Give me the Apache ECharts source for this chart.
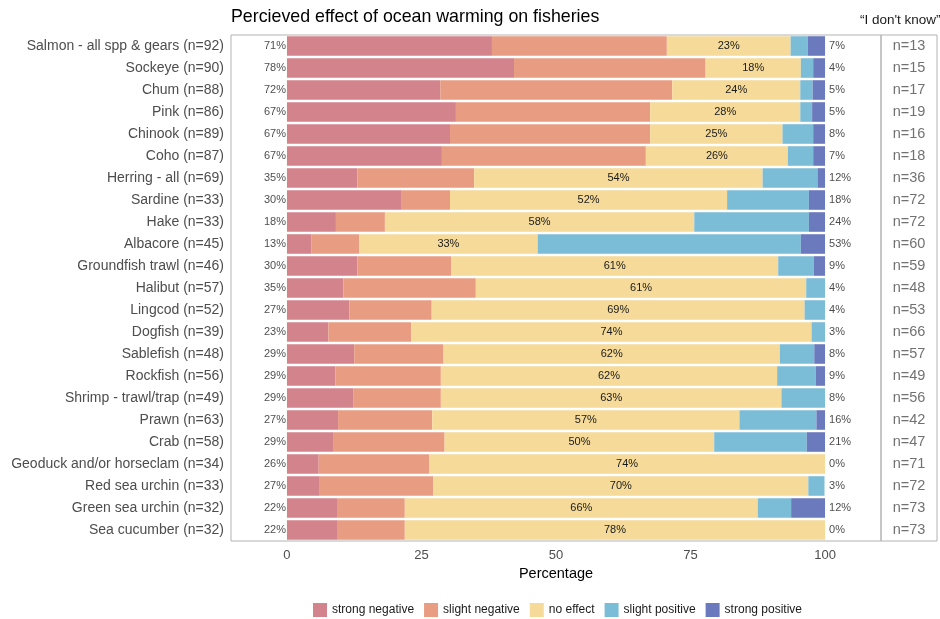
<!DOCTYPE html>
<html>
<head>
<meta charset="utf-8">
<script src="https://cdn.jsdelivr.net/npm/echarts@6/dist/echarts.min.js"></script>
<style>html,body{margin:0;padding:0;background:#fff}#c{width:940px;height:619px}</style>
</head>
<body>
<div id="c"></div>
<script>
const categories = ["Salmon - all spp & gears (n=92)","Sockeye (n=90)","Chum (n=88)","Pink (n=86)","Chinook (n=89)","Coho (n=87)","Herring - all (n=69)","Sardine (n=33)","Hake (n=33)","Albacore (n=45)","Groundfish trawl (n=46)","Halibut (n=57)","Lingcod (n=52)","Dogfish (n=39)","Sablefish (n=48)","Rockfish (n=56)","Shrimp - trawl/trap (n=49)","Prawn (n=63)","Crab (n=58)","Geoduck and/or horseclam (n=34)","Red sea urchin (n=33)","Green sea urchin (n=32)","Sea cucumber (n=32)"];
const strongNegative = [38.1,42.2,28.5,31.4,30.3,28.8,13.1,21.2,9.1,4.5,13.1,10.5,11.6,7.7,12.5,9.0,12.3,9.5,8.7,5.9,6.1,9.3,9.3];
const slightNegative = [32.5,35.6,43.1,36.1,37.2,37.9,21.7,9.1,9.1,8.9,17.4,24.6,15.3,15.4,16.6,19.6,16.3,17.5,20.6,20.5,21.1,12.6,12.6];
const noEffect       = [23.0,17.7,23.8,27.9,24.6,26.4,53.6,51.5,57.5,33.2,60.8,61.4,69.3,74.4,62.5,62.5,63.3,57.1,50.1,73.6,69.7,65.6,78.1];
const slightPositive = [3.2,2.3,2.3,2.2,5.7,4.7,10.2,15.2,21.3,48.9,6.6,3.5,3.8,2.5,6.4,7.2,8.1,14.3,17.2,0,3.0,6.2,0];
const strongPositive = [3.2,2.2,2.3,2.4,2.2,2.2,1.4,3.0,3.0,4.5,2.1,0,0,0,2.0,1.7,0,1.6,3.4,0,0,6.3,0];
const negLabels = [71,78,72,67,67,67,35,30,18,13,30,35,27,23,29,29,29,27,29,26,27,22,22];
const neutralLabels = [23,18,24,28,25,26,54,52,58,33,61,61,69,74,62,62,63,57,50,74,70,66,78];
const posLabels = [7,4,5,5,8,7,12,18,24,53,9,4,4,3,8,9,8,16,21,0,3,12,0];
const dontKnow = [13,15,17,19,16,18,36,72,72,60,59,48,53,66,57,49,56,42,47,71,72,73,73];
const xTicks = [0,25,50,75,100];
const seriesNames = ["strong negative","slight negative","no effect","slight positive","strong positive"];
const colors = ["#d3838b","#e89c81","#f5da99","#7bbcd6","#6b79bd"];

const FONT = "Liberation Sans, Arial, sans-serif";
const chart = echarts.init(document.getElementById('c'), null, {renderer:'canvas'});
const seriesData = [strongNegative, slightNegative, noEffect, slightPositive, strongPositive];

const barSeries = seriesData.map((d, k) => ({
  name: seriesNames[k], type: 'bar', stack: 'tot', xAxisIndex: 0, yAxisIndex: 0,
  barCategoryGap: '11%', data: d, itemStyle: {color: colors[k]},
  emphasis: {disabled: true},
  label: k === 2 ? {show: true, position: 'inside', fontSize: 11, fontFamily: FONT, color: '#1a1a1a',
    formatter: p => neutralLabels[p.dataIndex] + '%'} : {show: false}
}));

chart.setOption({
  animation: false,
  textStyle: {fontFamily: FONT},
  title: {text: 'Percieved effect of ocean warming on fisheries', left: 226, top: 3,
    textStyle: {fontSize: 17.8, fontWeight: 'normal', color: '#000', fontFamily: FONT}},
  legend: {data: seriesNames, left: 308, top: 598, icon: 'rect', itemWidth: 14, itemHeight: 14, itemGap: 10,
    textStyle: {fontSize: 12, color: '#1a1a1a', fontFamily: FONT}},
  graphic: [{type: 'text', left: 860, top: 13, style: {text: '\u201cI don\'t know\u201d', fontSize: 13.5, fill: '#1a1a1a', fontFamily: FONT}}],
  grid: [
    {left: 231, right: 59, top: 35, bottom: 78, show: true, borderColor: '#b3b3b3', borderWidth: 1},
    {left: 881, right: 3, top: 35, bottom: 78, show: true, borderColor: '#b3b3b3', borderWidth: 1}
  ],
  xAxis: [
    {type: 'value', gridIndex: 0, min: -10.4, max: 110.4, splitLine: {show: false}, axisLine: {show: false}, axisTick: {show: false},
     axisLabel: {customValues: xTicks, fontSize: 13, color: '#4d4d4d', margin: 8, fontFamily: FONT},
     name: 'Percentage', nameLocation: 'middle', nameGap: 25, nameTextStyle: {fontSize: 14.5, color: '#000', fontFamily: FONT}},
    {type: 'value', gridIndex: 1, min: 0, max: 1, show: false}
  ],
  yAxis: [
    {type: 'category', gridIndex: 0, data: categories, inverse: true, axisLine: {show: false}, axisTick: {show: false},
     axisLabel: {fontSize: 14, color: '#4d4d4d', margin: 7, fontFamily: FONT}},
    {type: 'category', gridIndex: 1, data: categories, inverse: true, show: false}
  ],
  series: barSeries.concat([
    {type: 'scatter', xAxisIndex: 0, yAxisIndex: 0, symbolSize: 0.1, silent: true,
     data: categories.map((c, i) => [0, i]),
     label: {show: true, position: 'left', distance: 1, fontSize: 11, color: '#1a1a1a', fontFamily: FONT,
       formatter: p => negLabels[p.dataIndex] + '%'}},
    {type: 'scatter', xAxisIndex: 0, yAxisIndex: 0, symbolSize: 0.1, silent: true,
     data: categories.map((c, i) => [100, i]),
     label: {show: true, position: 'right', distance: 4, fontSize: 11, color: '#1a1a1a', fontFamily: FONT,
       formatter: p => posLabels[p.dataIndex] + '%'}},
    {type: 'scatter', xAxisIndex: 1, yAxisIndex: 1, symbolSize: 0.1, silent: true,
     data: categories.map((c, i) => [0.5, i]),
     label: {show: true, position: 'inside', fontSize: 14.5, color: '#4d4d4d', fontFamily: FONT,
       formatter: p => 'n=' + dontKnow[p.dataIndex]}}
  ])
});
</script>
</body>
</html>
